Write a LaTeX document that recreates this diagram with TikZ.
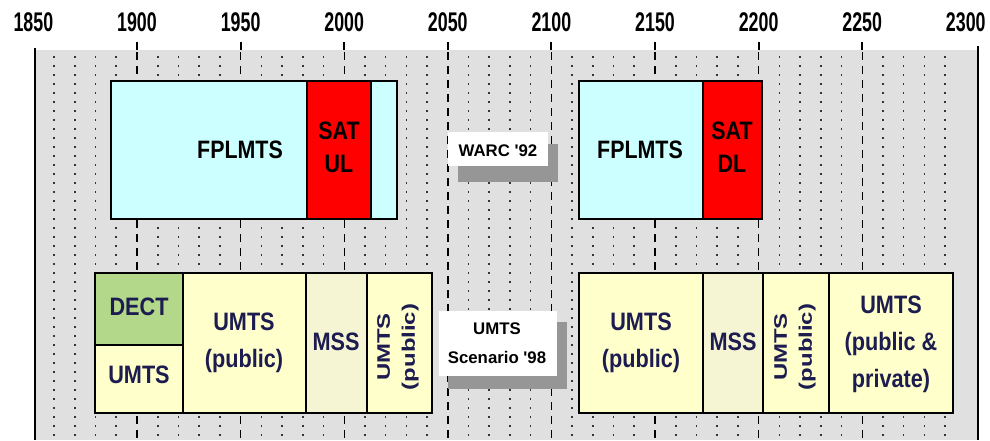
\documentclass[tikz,border=0pt]{standalone}
\usepackage{fontspec}
\setmainfont{Liberation Sans}
\usetikzlibrary{positioning}
\definecolor{gridbg}{RGB}{224,224,224}
\definecolor{fplcyan}{RGB}{204,255,255}
\definecolor{satred}{RGB}{255,0,0}
\definecolor{umtsyellow}{RGB}{255,255,204}
\definecolor{msscream}{RGB}{245,245,212}
\definecolor{dectgreen}{RGB}{179,216,137}
\definecolor{bandtext}{RGB}{28,28,80}
\definecolor{shadowgray}{RGB}{150,150,150}

\begin{document}
\begin{tikzpicture}[x=0.5pt, y=-0.5pt,
    band/.style={draw=black, line width=0.8pt},
    yearlabel/.style={font=\bfseries\fontsize{13.5}{15}\selectfont, xscale=0.66},
    toplabel/.style={font=\bfseries\fontsize{12.6}{16.5}\selectfont, xscale=0.85, align=center},
    botlabel/.style={font=\bfseries\fontsize{12.6}{18.5}\selectfont, xscale=0.86, text=bandtext, align=center},
    sidelabel/.style={font=\bfseries\fontsize{12.6}{17.4}\selectfont, rotate=90, xscale=0.95, yscale=0.72, text=bandtext, align=center},
    calloutlabel/.style={font=\bfseries\fontsize{8.4}{14.5}\selectfont, align=center}]
    \useasboundingbox[fill=white] (0,0) rectangle (990,440);

    % Grid area
    \fill[gridbg] (35,50) rectangle (978,440);
    \foreach \b in {1850,1900,...,2250}
      \foreach \d in {10,20,30,40} {
        \pgfmathsetmacro\px{137+(\b+\d-1900)*2.072}
        \draw[black!80, line width=0.8pt, dash pattern=on 1pt off 3.5pt] (\px,56) -- (\px,440);
      }
    \foreach \f in {1900,1950,...,2250} {
      \pgfmathsetmacro\px{137+(\f-1900)*2.072}
      \draw[black, line width=0.7pt, dash pattern=on 4pt off 3pt] (\px,52) -- (\px,440);
      \draw[black, line width=1pt] (\px,42) -- (\px,50);
    }
    \draw[black, line width=1pt] (35,48) -- (35,440);
    \draw[black, line width=1pt] (978,46) -- (978,440);

    % Frequency scale
    \foreach \f in {1850,1900,...,2300} {
      \pgfmathsetmacro\px{137+(\f-1900)*2.072}
      \node[yearlabel] (y\f) at (\px,22) {\f};
    }

    % WARC '92 allocation
    \draw[band, fill=fplcyan] (111,81) rectangle (397,219);
    \draw[band, fill=satred] (307,81) rectangle (371,219);
    \draw[band, fill=fplcyan] (579,81) rectangle (762,219);
    \draw[band, fill=satred] (703,81) rectangle (762,219);
    \node[toplabel] (fplmtsA) at (240,150) {FPLMTS};
    \node[toplabel] (satul) at (339,147) {SAT\\UL};
    \node[toplabel] (fplmtsB) at (640,150) {FPLMTS};
    \node[toplabel] (satdl) at (732,147) {SAT\\DL};

    \fill[shadowgray] (458,144) rectangle (558,182);
    \fill[white] (448,132) rectangle (548,166);
    \node[calloutlabel] (warc) at (498,151) {WARC \textquotesingle92};

    % UMTS scenario '98
    \draw[band, fill=dectgreen] (95,273) rectangle (183,345);
    \draw[band, fill=umtsyellow] (95,345) rectangle (183,413);
    \draw[band, fill=umtsyellow] (183,273) rectangle (306,413);
    \draw[band, fill=msscream] (306,273) rectangle (367,413);
    \draw[band, fill=umtsyellow] (367,273) rectangle (432,413);
    \draw[band, fill=umtsyellow] (579,273) rectangle (703,413);
    \draw[band, fill=msscream] (703,273) rectangle (763,413);
    \draw[band, fill=umtsyellow] (763,273) rectangle (829,413);
    \draw[band, fill=umtsyellow] (829,273) rectangle (953,413);

    \node[botlabel] (dect) at (139,307) {DECT};
    \node[botlabel] (umtsA) at (139,375) {UMTS};
    \node[botlabel] (umtsB) at (244,343) {UMTS\\(public)};
    \node[botlabel] (mssA) at (336,342) {MSS};
    \node[sidelabel] (umtsC) at (398,347) {UMTS\\(public)};
    \node[botlabel] (umtsD) at (641,343) {UMTS\\(public)};
    \node[botlabel] (mssB) at (733,342) {MSS};
    \node[sidelabel] (umtsE) at (795,347) {UMTS\\(public)};
    \node[botlabel] (umtsF) at (891,344) {UMTS\\(public \&\\private)};

    \fill[shadowgray] (448,322) rectangle (567,389);
    \fill[white] (439,311) rectangle (557,376);
    \node[calloutlabel] (scenario) at (497,343) {UMTS\\Scenario \textquotesingle98};
  \end{tikzpicture}
\end{document}
